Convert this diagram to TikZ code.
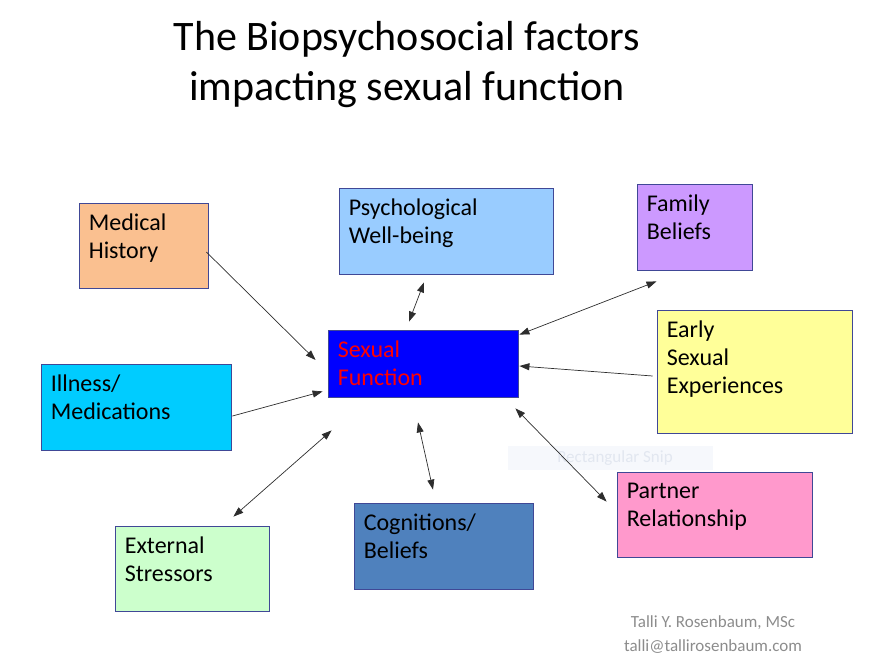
\documentclass[tikz,border=0pt]{standalone}
\usepackage{fontspec}
\setmainfont{Carlito}
\usetikzlibrary{arrows.meta, calc}
\definecolor{boxline}{RGB}{64,72,150}
\definecolor{arrowgray}{RGB}{45,45,45}
\definecolor{medfill}{RGB}{250,192,144}
\definecolor{psyfill}{RGB}{153,204,255}
\definecolor{famfill}{RGB}{204,153,255}
\definecolor{earlyfill}{RGB}{255,255,153}
\definecolor{sffill}{RGB}{0,0,255}
\definecolor{illfill}{RGB}{0,204,255}
\definecolor{parfill}{RGB}{255,153,204}
\definecolor{cogfill}{RGB}{79,129,189}
\definecolor{extfill}{RGB}{204,255,204}
\definecolor{footgray}{RGB}{140,140,140}
\definecolor{snipfill}{RGB}{246,248,252}
\definecolor{sniptext}{RGB}{226,231,240}

\begin{document}
\begin{tikzpicture}[x=1pt, y=-1pt,
    block/.style={rectangle, draw=boxline, line width=0.8pt, inner sep=0pt},
    boxtext/.style={anchor=north west, align=left, inner xsep=10pt, inner ysep=11pt, font=\fontsize{24}{28}\selectfont},
    arrow/.style={-{Triangle[length=10pt,width=7pt]}, line width=0.7pt, draw=arrowgray},
    twoway/.style={{Triangle[length=10pt,width=7pt]}-{Triangle[length=10pt,width=7pt]}, line width=0.7pt, draw=arrowgray}
]
\useasboundingbox (0,0) rectangle (880,664);

% title
\node[align=center, font=\fontsize{42}{50}\selectfont] (title) at (407,65) {The Biopsychosocial factors\\ impacting sexual function};

% faint snip label
\node[fill=snipfill, minimum width=205pt, minimum height=24pt, text=sniptext, font=\fontsize{17}{20}\selectfont] (snip) at (610,458) {\hspace{10pt}Rectangular Snip};

% boxes
\node[block, fill=medfill, minimum width=129pt, minimum height=85pt, label={[boxtext]north west:Medical\\History}] (med) at (143.5,245.5) {};
\node[block, fill=psyfill, minimum width=214pt, minimum height=86pt, label={[boxtext]north west:Psychological\\Well-being}] (psy) at (446,231) {};
\node[block, fill=famfill, minimum width=115pt, minimum height=86pt, label={[boxtext]north west:Family\\Beliefs}] (fam) at (694.5,227) {};
\node[block, fill=earlyfill, minimum width=195pt, minimum height=123pt, label={[boxtext]north west:Early\\Sexual\\Experiences}] (early) at (754.5,371.5) {};
\node[block, fill=sffill, minimum width=190pt, minimum height=67pt, label={[boxtext, text=red]north west:Sexual\\Function}] (sf) at (423,363.5) {};
\node[block, fill=illfill, minimum width=190pt, minimum height=86pt, label={[boxtext]north west:Illness/\\Medications}] (ill) at (136,407) {};
\node[block, fill=parfill, minimum width=195pt, minimum height=85pt, label={[boxtext]north west:Partner\\Relationship}] (par) at (714.5,514.5) {};
\node[block, fill=cogfill, minimum width=179pt, minimum height=86pt, label={[boxtext]north west:Cognitions/\\Beliefs}] (cog) at (443.5,546) {};
\node[block, fill=extfill, minimum width=154pt, minimum height=85pt, label={[boxtext]north west:External\\Stressors}] (ext) at (192,568.5) {};

% connectors
\draw[arrow] ($(med.east)+(-2,6.5)$) -- ($(sf.west)+(-12,-3.5)$);
\draw[twoway] ($(psy.south)+(-22,8)$) -- ($(sf.north)+(-14,-8)$);
\draw[twoway] ($(sf.north east)+(1,5)$) -- ($(fam.south)+(-38,11)$);
\draw[arrow] ($(early.west)+(-4,4.5)$) -- ($(sf.east)+(1,2.5)$);
\draw[arrow] ($(ill.east)+(1,9)$) -- ($(sf.south west)+(-5,-6)$);
\draw[twoway] ($(ext.north east)+(-36,-9)$) -- ($(sf.south west)+(4,33)$);
\draw[twoway] ($(sf.south)+(-5,25)$) -- ($(cog.north)+(-10.5,-13)$);
\draw[twoway] ($(sf.south east)+(-3,11)$) -- ($(par.north west)+(-10,30)$);

% credit
\node[text=footgray, font=\fontsize{17}{20}\selectfont] (credit) at (713,623) {Talli Y. Rosenbaum, MSc};
\node[text=footgray, font=\fontsize{17}{20}\selectfont] (mail) at (713,647) {talli@tallirosenbaum.com};

\end{tikzpicture}
\end{document}
